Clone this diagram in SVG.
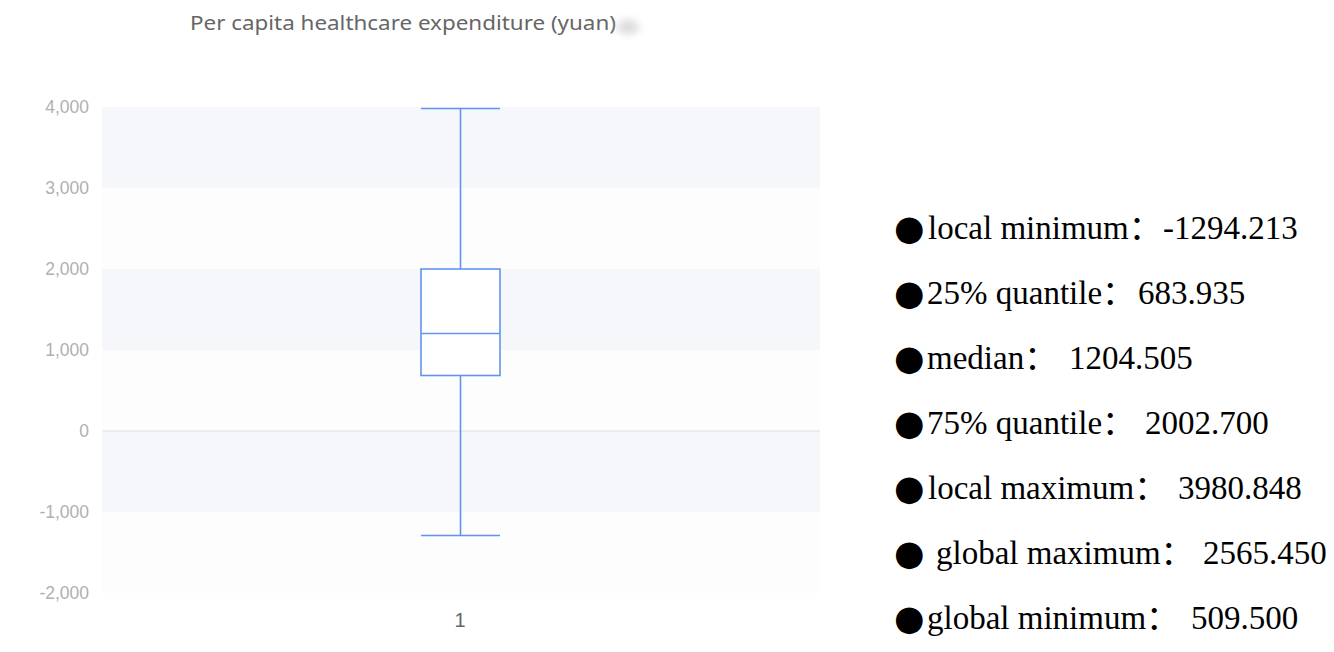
<svg xmlns="http://www.w3.org/2000/svg" width="1334" height="652" viewBox="0 0 1334 652">
<style>
.axis{font-family:"Liberation Sans","Noto Sans",sans-serif;font-size:17.5px;fill:#b0b0b0;text-anchor:end}
.title{font-family:"Noto Sans","Liberation Sans",sans-serif;font-size:20px;fill:#666}
.stat{font-family:"Liberation Serif","Noto Sans CJK SC","DejaVu Serif",serif;font-size:33px;fill:#000}
.bul{font-family:"DejaVu Sans",sans-serif;font-size:35px;fill:#000}
.box{stroke:#6393f2;stroke-width:1.6;fill:none}
.band1{fill:#f6f7fb}
.band2{fill:#fdfdfe}
</style>
<defs>
<filter id="blur" x="-50%" y="-50%" width="200%" height="200%"><feGaussianBlur stdDeviation="4"/></filter>
</defs>
<rect width="1334" height="652" fill="#fff"/>
<g id="title">
<text class="title" x="190" y="30" textLength="426" lengthAdjust="spacingAndGlyphs">Per capita healthcare expenditure (yuan)</text>
<ellipse cx="628" cy="27" rx="11" ry="7" fill="#d8d8d8" filter="url(#blur)"/>
</g>
<g id="plot-bands">
<rect class="band1" x="102" y="107" width="718" height="81"/>
<rect class="band2" x="102" y="188" width="718" height="81"/>
<rect class="band1" x="102" y="269" width="718" height="81"/>
<rect class="band2" x="102" y="350" width="718" height="81"/>
<rect class="band1" x="102" y="431" width="718" height="81"/>
<rect class="band2" x="102" y="512" width="718" height="81"/>
<line x1="102" y1="431" x2="820" y2="431" stroke="#e9eaf0" stroke-width="1.5"/>
</g>
<g id="y-axis">
<text class="axis" x="89" y="113">4,000</text>
<text class="axis" x="89" y="194">3,000</text>
<text class="axis" x="89" y="275">2,000</text>
<text class="axis" x="89" y="356">1,000</text>
<text class="axis" x="89" y="437">0</text>
<text class="axis" x="89" y="518">-1,000</text>
<text class="axis" x="89" y="599">-2,000</text>
</g>
<g id="x-axis">
<text x="460" y="627" style="font-family:'Liberation Sans',sans-serif;font-size:20px;fill:#666;text-anchor:middle">1</text>
</g>
<g id="boxplot">
<line class="box" x1="421" y1="108.5" x2="500" y2="108.5"/>
<line class="box" x1="460.5" y1="108.5" x2="460.5" y2="269"/>
<rect x="421" y="269" width="79" height="106.5" fill="#fff" stroke="#6393f2" stroke-width="1.6"/>
<line class="box" x1="421" y1="333.5" x2="500" y2="333.5"/>
<line class="box" x1="460.5" y1="375.5" x2="460.5" y2="535.5"/>
<line class="box" x1="421" y1="535.5" x2="500" y2="535.5"/>
</g>
<g id="stats">
<text class="bul" x="894" y="240">●</text>
<text class="stat" x="928" y="239">local minimum：<tspan x="1163">-1294.213</tspan></text>
<text class="bul" x="894" y="305">●</text>
<text class="stat" x="927" y="304">25% quantile：<tspan x="1138">683.935</tspan></text>
<text class="bul" x="894" y="370">●</text>
<text class="stat" x="927" y="369">median：<tspan x="1069">1204.505</tspan></text>
<text class="bul" x="894" y="435">●</text>
<text class="stat" x="927" y="434">75% quantile：<tspan x="1145">2002.700</tspan></text>
<text class="bul" x="894" y="500">●</text>
<text class="stat" x="928" y="499">local maximum：<tspan x="1178">3980.848</tspan></text>
<text class="bul" x="894" y="565">●</text>
<text class="stat" x="936" y="564">global maximum：<tspan x="1203">2565.450</tspan></text>
<text class="bul" x="894" y="630">●</text>
<text class="stat" x="927" y="629">global minimum：<tspan x="1191">509.500</tspan></text>
</g>
</svg>
